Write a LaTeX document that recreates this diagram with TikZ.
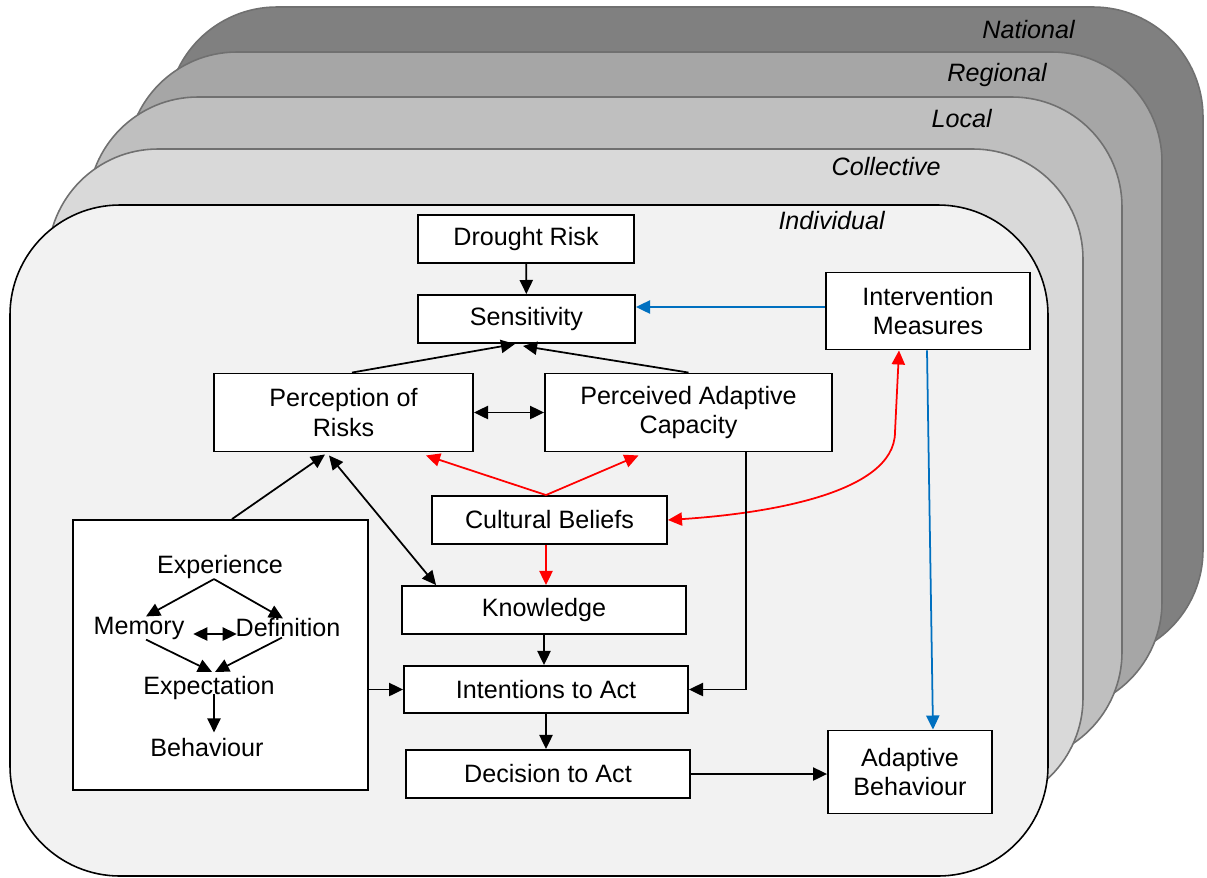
\documentclass[tikz,border=0pt]{standalone}
\usepackage{fontspec}
\setmainfont{Liberation Sans}
\usetikzlibrary{arrows.meta, positioning}
\definecolor{natgray}{HTML}{808080}
\definecolor{reggray}{HTML}{A6A6A6}
\definecolor{locgray}{HTML}{BFBFBF}
\definecolor{colgray}{HTML}{D9D9D9}
\definecolor{indgray}{HTML}{F2F2F2}
\definecolor{edgegray}{HTML}{707070}
\definecolor{measblue}{HTML}{0070C0}
\tikzset{
    >={Triangle[length=8pt,width=7.5pt]}, % filled triangle heads
    layer/.style={draw=edgegray, line width=0.9pt, rounded corners=2.2cm}, % one level of scale
    layername/.style={anchor=east, inner sep=0pt, font=\fontsize{14.3}{17}\selectfont\itshape},
    box/.style={draw, line width=1.1pt, fill=white, inner sep=0pt, align=center, font=\fontsize{14.3}{17}\selectfont},
    word/.style={inner sep=0pt, font=\fontsize{14.3}{17}\selectfont}, % plain text inside the big box
    flow/.style={->, line width=1pt},
    redflow/.style={flow, draw=red},
    blueflow/.style={flow, draw=measblue},
}
\begin{document}
\begin{tikzpicture}[x=0.02cm, y=-0.02cm]
\useasboundingbox (0,0) rectangle (1207,877);

% levels, back to front
\draw[layer, fill=natgray] (167,7) rectangle (1203,660);
\draw[layer, fill=reggray] (127,52) rectangle (1162,712);
\draw[layer, fill=locgray] (88,97) rectangle (1122,762);
\draw[layer, fill=colgray] (48,149) rectangle (1083,808);
\draw[layer, fill=indgray, draw=black] (10,205) rectangle (1048,876);

\node[layername] (national) at (1075,30) {National};
\node[layername] (regional) at (1047,75) {Regional};
\node[layername] (local) at (992,119) {Local};
\node[layername] (collective) at (941,167) {Collective};
\node[layername] (individual) at (885,221) {Individual};

% boxes
\node[box, minimum width=4.32cm, minimum height=0.96cm] (drought) at (526,239) {Drought Risk};
\node[box, minimum width=4.34cm, minimum height=0.96cm] (sens) at (526.5,319) {Sensitivity};
\node[box, minimum width=4.08cm, minimum height=1.54cm] (meas) at (928,311) {Intervention\\Measures};
\node[box, minimum width=5.18cm, minimum height=1.56cm] (perc) at (343.5,412.5) {Perception of\\Risks};
\node[box, minimum width=5.74cm, minimum height=1.56cm] (pac) at (688.5,412.5) {Perceived Adaptive\\Capacity};
\node[box, minimum width=4.70cm, minimum height=0.96cm] (cult) at (549.5,520) {Cultural Beliefs};
\node[box, minimum width=5.68cm, minimum height=0.96cm] (know) at (544,610) {Knowledge};
\node[box, minimum width=5.68cm, minimum height=0.94cm] (intent) at (546,689.5) {Intentions to Act};
\node[box, minimum width=5.68cm, minimum height=0.96cm] (decide) at (548,774) {Decision to Act};
\node[box, minimum width=3.28cm, minimum height=1.66cm] (adapt) at (910,772) {Adaptive\\Behaviour};
\node[box, minimum width=5.90cm, minimum height=5.40cm] (past) at (220.5,655) {};

% inside the big box
\node[word] (exper) at (220,567) {Experience};
\node[word] (memory) at (139,628) {Memory};
\node[word] (defin) at (288,628) {Definition};
\node[word] (expect) at (209,688) {Expectation};
\node[word] (behav) at (207,748) {Behaviour};

\draw[flow] ([xshift=-0.12cm]exper.south) -- ([xshift=0.14cm]memory.north);
\draw[flow] ([xshift=-0.12cm]exper.south) -- ([xshift=-0.1cm]defin.north);
\draw[flow, <->] ([xshift=0.17cm, yshift=-0.12cm]memory.east) -- ([xshift=0.03cm, yshift=-0.12cm]defin.west);
\draw[flow] ([xshift=0.14cm]memory.south) -- ([xshift=0.06cm, yshift=0.08cm]expect.north);
\draw[flow] ([xshift=-0.12cm]defin.south) -- ([xshift=0.12cm, yshift=0.08cm]expect.north);
\draw[flow] ([xshift=0.1cm, yshift=-0.12cm]expect.center) -- ([xshift=0.14cm, yshift=0.12cm]behav.north);

% connectors
\draw[flow] (drought) -- (sens);
\draw[blueflow] ([yshift=0.08cm]meas.west) -- ([yshift=0.08cm]meas.west -| sens.east);
\draw[blueflow] ([xshift=-0.02cm]meas.south) -- ([xshift=0.46cm]adapt.north);
\draw[flow] ([xshift=0.17cm]perc.north) -- ([xshift=-0.23cm]sens.south);
\draw[flow] (pac.north) -- ([xshift=-0.07cm, yshift=-0.04cm]sens.south);
\draw[flow, <->] (perc.east) -- (pac.west);
\draw[redflow] ([xshift=-0.07cm]cult.north) -- ([xshift=1.65cm, yshift=-0.06cm]perc.south);
\draw[redflow] ([xshift=-0.07cm]cult.north) -- ([xshift=-1.0cm, yshift=-0.06cm]pac.south);
\draw[redflow] ([xshift=-0.07cm]cult.south) -- ([xshift=-0.07cm]cult.south |- know.north);
\coordinate (redbend) at (895,432);
\draw[redflow, <->] ([xshift=-0.58cm]meas.south) -- (redbend) .. controls (895,495) and (760,514) .. (cult.east);
\draw[flow, <->] ([xshift=0.7cm]know.north west) -- ([xshift=-0.29cm, yshift=-0.06cm]perc.south);
\draw[flow] ([xshift=0.23cm]past.north) -- ([xshift=-0.37cm, yshift=-0.04cm]perc.south);
\draw[flow] (past.east |- intent.west) -- (intent.west);
\draw[flow] (know.south) -- (know.south |- intent.north);
\draw[flow] ([xshift=1.15cm]pac.south) |- (intent.east);
\draw[flow] (intent.south) -- (intent.south |- decide.north);
\draw[flow] (decide.east) -- (decide.east -| adapt.west);
\end{tikzpicture}
\end{document}
